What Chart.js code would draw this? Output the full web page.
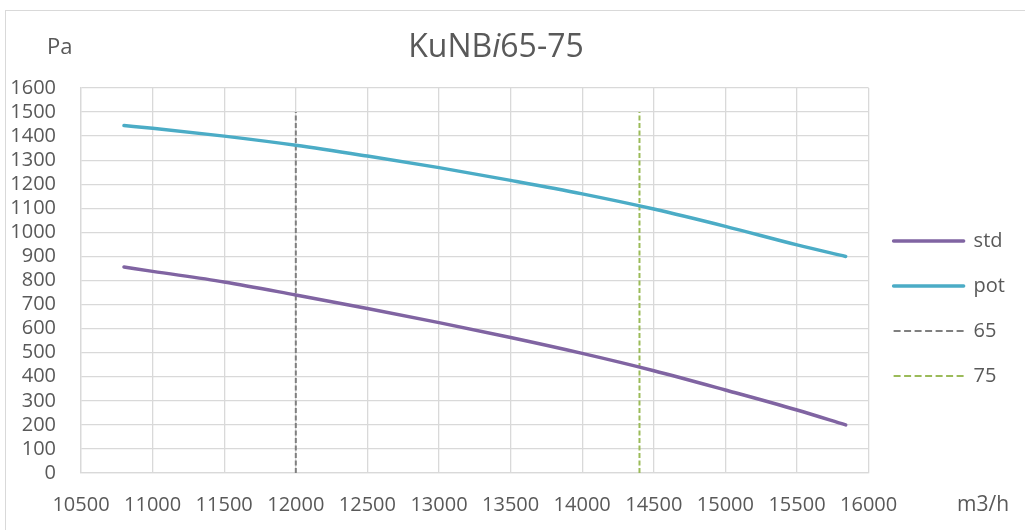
<!DOCTYPE html>
<html>
<head>
<meta charset="utf-8">
<script src="https://cdn.jsdelivr.net/npm/chart.js@4/dist/chart.umd.min.js"></script>
<style>
  html, body { margin: 0; padding: 0; background: #fff; }
  #wrap { width: 1025px; height: 530px; position: relative; }
</style>
</head>
<body>
<div id="wrap"><canvas id="c"></canvas></div>
<script>
// airflow (m3/h) and pressure (Pa)
const flow   = [10800, 11000, 11500, 12000, 12500, 13000, 13500, 14000, 14500, 15000, 15500, 15840];
const stdPa  = [856, 838, 794, 740, 684, 625, 563, 497, 425, 345, 262, 200];
const potPa  = [1444, 1433, 1400, 1362, 1317, 1269, 1216, 1160, 1097, 1025, 948, 900];
// vertical marker lines
const markerNames = ["65", "75"];
const markerFlow  = [12000, 14400];
const markerSpan  = [0, 1500];
const xTicks = [10500, 16000, 500];
const yTicks = [0, 1600, 100];

const TXT = "#595959", GRID = "#d9d9d9";
const PURPLE = "#8064A2", TEAL = "#4BACC6", GREY = "#7F7F7F", GREEN = "#9BBB59";
const FONT = "'Open Sans', sans-serif";

Chart.defaults.font.family = FONT;
Chart.defaults.color = TXT;

const pts = (xs, ys) => xs.map((x, i) => ({ x, y: ys[i] }));

function curve(label, ys, color) {
  return {
    label, data: pts(flow, ys), borderColor: color, backgroundColor: color,
    borderWidth: 3.5, pointRadius: 0, cubicInterpolationMode: "monotone",
    borderCapStyle: "round", borderJoinStyle: "round"
  };
}
function marker(i, color) {
  return {
    label: markerNames[i],
    data: markerSpan.map(y => ({ x: markerFlow[i], y })),
    borderColor: color, backgroundColor: "transparent",
    borderWidth: 2, borderDash: [5, 2.5], pointRadius: 0
  };
}

// title, axis captions and the outer frame
const decor = {
  id: "decor",
  beforeDraw(chart) {
    const ctx = chart.ctx;
    ctx.save();
    ctx.strokeStyle = GRID; ctx.lineWidth = 1;
    ctx.strokeRect(5.5, 10.5, 1100, 600);
    ctx.restore();
  },
  afterDraw(chart) {
    const ctx = chart.ctx;
    ctx.save();
    ctx.fillStyle = TXT;
    ctx.textBaseline = "middle";
    ctx.font = "22px " + FONT;
    ctx.textAlign = "left";
    ctx.fillText("Pa", 47, 48);
    ctx.font = "21px " + FONT;
    ctx.fillText("m3/h", 957, 505);

    const parts = [["KuNB", ""], ["i", "italic "], ["65-75", ""]];
    let w = 0;
    parts.forEach(p => { ctx.font = p[1] + "32px " + FONT; w += ctx.measureText(p[0]).width; });
    let x = 496 - w / 2;
    parts.forEach(p => {
      ctx.font = p[1] + "32px " + FONT;
      ctx.fillText(p[0], x, 48);
      x += ctx.measureText(p[0]).width;
    });
    ctx.restore();
  }
};

new Chart(document.getElementById("c"), {
  type: "line",
  data: {
    datasets: [
      curve("std", stdPa, PURPLE),
      curve("pot", potPa, TEAL),
      marker(0, GREY),
      marker(1, GREEN)
    ]
  },
  options: {
    responsive: true, maintainAspectRatio: false, animation: false,
    layout: { padding: { top: 88, left: 11, right: 10, bottom: 13 } },
    plugins: {
      tooltip: { enabled: false },
      legend: {
        position: "right",
        title: { display: true, text: "", padding: 0, font: { size: 10, lineHeight: 1.2 } },
        labels: {
          usePointStyle: true, pointStyle: "line", pointStyleWidth: 70,
          boxHeight: 20, padding: 25,
          font: { size: 20 }, color: TXT,
          generateLabels(chart) {
            const items = Chart.defaults.plugins.legend.labels.generateLabels(chart);
            items.forEach(it => {
              const ds = chart.data.datasets[it.datasetIndex];
              it.strokeStyle = ds.borderColor;
              it.lineWidth = ds.borderWidth;
              it.lineCap = ds.borderCapStyle || "butt";
              it.lineDash = ds.borderDash ? [7, 3.5] : [];
            });
            return items;
          }
        }
      }
    },
    scales: {
      x: {
        type: "linear", min: xTicks[0], max: xTicks[1],
        ticks: { stepSize: xTicks[2], padding: 20, font: { size: 20 }, color: TXT, maxRotation: 0, autoSkip: false,
                 callback: v => String(v) },
        grid: { color: GRID, lineWidth: 1.3, drawTicks: false },
        border: { color: GRID, width: 1.3 },
        afterFit(scale) { scale.paddingLeft = 0; scale.paddingRight = 0; scale.height = 44; }
      },
      y: {
        min: yTicks[0], max: yTicks[1],
        ticks: { stepSize: yTicks[2], padding: 25, font: { size: 20 }, color: TXT, autoSkip: false,
                 callback: v => String(v) },
        grid: { color: GRID, lineWidth: 1.3, drawTicks: false },
        border: { color: GRID, width: 1.3 },
        afterFit(scale) { scale.width = 70; }
      }
    }
  },
  plugins: [decor]
});
</script>
</body>
</html>
